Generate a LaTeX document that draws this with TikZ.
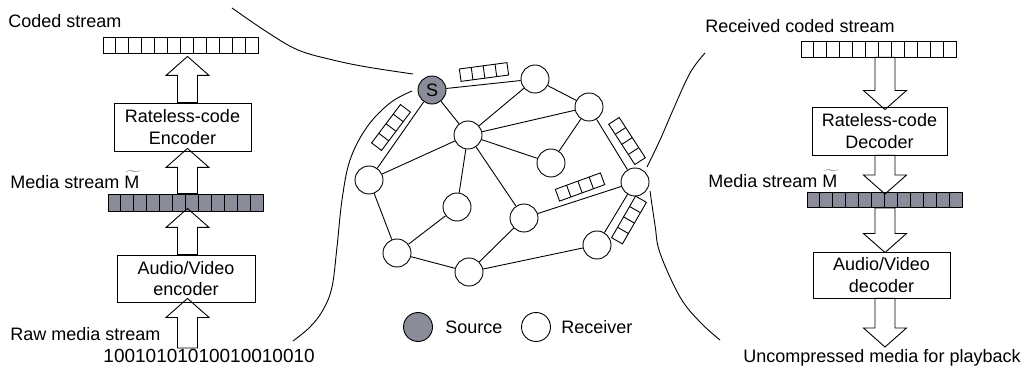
\documentclass[tikz,border=0pt]{standalone}
\usepackage{fontspec}
\setmainfont{Liberation Sans}
\usetikzlibrary{calc}
\newcommand\myfs{\fontsize{18}{21.5}\selectfont}
\definecolor{srcgray}{RGB}{138,141,153}
\newcommand\cellsplit[1]{\foreach \i in {1,...,11}{\draw ($(#1.north west)!\i/12!(#1.north east)$) -- ($(#1.south west)!\i/12!(#1.south east)$);}}
\newcommand\tildeM{\leavevmode\hbox{M}\llap{\raisebox{2.5pt}{\makebox[13pt][c]{$\widetilde{\phantom{\hbox{M}}}$}}}}
\tikzset{
  every path/.style={line width=0.9pt},
  lbl/.style={anchor=base west, inner sep=0pt, font=\myfs},
  bar/.style={draw, rectangle, inner sep=0pt, minimum width=155pt},
  box/.style={draw, rectangle, inner sep=0pt, align=center, font=\myfs},
  peer/.style={draw, circle, fill=white, inner sep=0pt, minimum size=28pt, font=\myfs},
  src/.style={peer, fill=srcgray},
  blockup/.style={to path={let \p1=(\tikztostart),\p2=(\tikztotarget) in
    (\x1-10pt,\y1) -- (\x1-10pt,\y2-19pt) -- (\x1-21.5pt,\y2-19pt) -- (\x1,\y2) -- (\x1+21.5pt,\y2-19pt) -- (\x1+10pt,\y2-19pt) -- (\x1+10pt,\y1) -- cycle}},
  blockdown/.style={to path={let \p1=(\tikztostart),\p2=(\tikztotarget) in
    (\x1-10pt,\y1) -- (\x1-10pt,\y2+19pt) -- (\x1-21.5pt,\y2+19pt) -- (\x1,\y2) -- (\x1+21.5pt,\y2+19pt) -- (\x1+10pt,\y2+19pt) -- (\x1+10pt,\y1) -- cycle}},
  packet/.pic={\draw (-24,-6.25) rectangle (24,6.25);
    \foreach \i in {-12,0,12} \draw (\i,-6.25) -- (\i,6.25);}
}
\begin{document}
\begin{tikzpicture}[x=1pt,y=-1pt]
\useasboundingbox (0,0) rectangle (1026,366);

% ---------- left column ----------
\coordinate (lc) at (187.5,0);
\node[lbl] (tcoded) at (8,28) {Coded stream};
\node[bar, minimum height=16pt] (coded) at (180.5,45) {};
\cellsplit{coded}
\node[box, minimum width=137pt, minimum height=48pt] (enc) at (182.5,127) {Rateless-code\\Encoder};
\node[lbl] (tmedia) at (10,189) {Media stream \tildeM};
\node[bar, minimum height=17pt, fill=srcgray] (media) at (185.5,202.5) {};
\cellsplit{media}
\node[box, minimum width=138pt, minimum height=47pt] (avenc) at (186,278.5) {Audio/Video\\encoder};
\node[lbl] (traw) at (10,341) {Raw media stream};
\node[lbl, font=\fontsize{19}{22}\selectfont] (tbits) at (103,362) {10010101010010010010};
\coordinate (rawbase) at (188,348);

\draw[blockup] (lc |- rawbase) to ($(lc |- avenc.south)+(0,-4)$);
\draw[blockup] (lc |- avenc.north) to ($(lc |- media.south)+(0,-3)$);
\draw[blockup] (lc |- media.north) to ($(lc |- enc.south)+(0,-3)$);
\draw[blockup] (lc |- enc.north) to ($(lc |- coded.south)+(0,3)$);

% ---------- right column ----------
\coordinate (rc) at (885,0);
\node[lbl] (trcoded) at (705,32.5) {Received coded stream};
\node[bar, minimum height=16pt] (rcoded) at (878.5,49) {};
\cellsplit{rcoded}
\node[box, minimum width=135pt, minimum height=48pt] (dec) at (879.5,131) {Rateless-code\\Decoder};
\node[lbl] (trmedia) at (708,188) {Media stream \tildeM};
\node[bar, minimum height=15pt, fill=srcgray] (rmedia) at (884.5,200) {};
\cellsplit{rmedia}
\node[box, minimum width=137pt, minimum height=46pt] (avdec) at (881.5,275) {Audio/Video\\decoder};
\node[lbl] (tout) at (743,362) {Uncompressed media for playback};
\coordinate (outend) at (885,347);

\draw[blockdown] (rc |- rcoded.south) to ($(rc |- dec.north)+(0,3)$);
\draw[blockdown] (rc |- dec.south) to ($(rc |- rmedia.north)+(0,2)$);
\draw[blockdown] (rc |- rmedia.south) to ($(rc |- avdec.north)+(0,1)$);
\draw[blockdown] (rc |- avdec.south) to (rc |- outend);

% ---------- network ----------
\node[src] (S) at (432,90) {S};
\node[peer] (n1) at (535,79) {};
\node[peer] (n2) at (589,107) {};
\node[peer] (n3) at (468,135) {};
\node[peer] (n4) at (551,163) {};
\node[peer] (n5) at (635,182) {};
\node[peer] (n6) at (369,180) {};
\node[peer] (n7) at (457,207) {};
\node[peer] (n8) at (524,218) {};
\node[peer] (n9) at (597,245) {};
\node[peer] (n10) at (397,253) {};
\node[peer] (n11) at (469,272) {};

\draw (S) -- (n1);
\draw (S) -- (n6);
\draw (S) -- (n3);
\draw (n1) -- (n3);
\draw (n1) -- (n2);
\draw (n3) -- (n2);
\draw (n2) -- (n4);
\draw (n2) -- (n5);
\draw (n3) -- (n4);
\draw (n3) -- (n6);
\draw (n3) -- (n7);
\draw (n3) -- (n8);
\draw (n6) -- (n10);
\draw (n7) -- (n10);
\draw (n10) -- (n11);
\draw (n11) -- (n8);
\draw (n8) -- (n5);
\draw (n11) -- (n9);
\draw (n9) -- (n5);

\pic[rotate=7.6] at (484,72) {packet};
\pic[rotate=53] at (391,127.5) {packet};
\pic[rotate=-57] at (627,141) {packet};
\pic[rotate=20] at (580,187) {packet};
\pic[rotate=60] at (629,220) {packet};

% ---------- curves ----------
\draw plot[smooth, tension=0.6] coordinates {(232,8) (267,32) (298,50) (333,60) (367,67) (413,74)};
\draw plot[smooth, tension=0.6] coordinates {(412,91) (390,103) (367,127) (350,160) (342,200) (337,247) (332,287) (323,310) (310,327) (293,341)};
\draw plot[smooth, tension=0.6] coordinates {(705,53) (690,73) (673,110) (660,140) (647,167)};
\draw plot[smooth, tension=0.6] coordinates {(650,191) (655,225) (660,253) (680,297) (700,322) (720,340)};

% ---------- legend ----------
\node[src, minimum size=29pt] (legs) at (418,327) {};
\node[lbl] (tsrc) at (445,334) {Source};
\node[peer, minimum size=29pt] (legr) at (536,327) {};
\node[lbl] (trcv) at (561,334) {Receiver};
\end{tikzpicture}
\end{document}
